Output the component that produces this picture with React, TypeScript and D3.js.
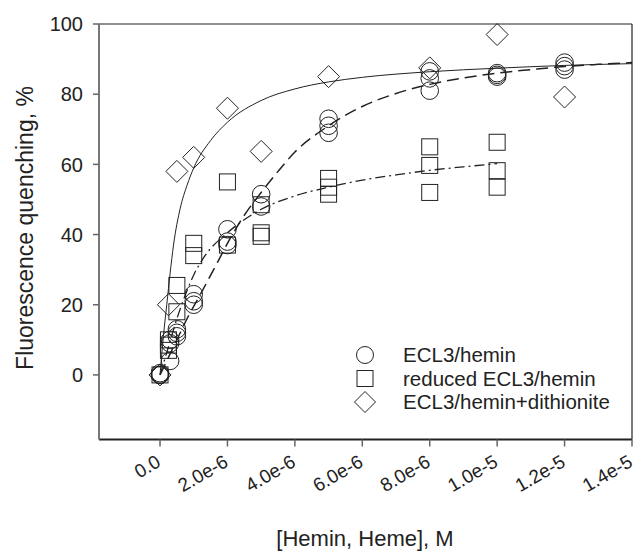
import React from "react";
import * as d3 from "d3";

// ---- data (concentrations in M, quenching in %) ----
const circleX = [0, 0, 0, 0.3e-6, 0.3e-6, 0.3e-6, 0.5e-6, 0.5e-6, 0.5e-6, 1e-6, 1e-6, 1e-6, 2e-6, 2e-6, 2e-6, 3e-6, 3e-6, 5e-6, 5e-6, 5e-6, 8e-6, 8e-6, 8e-6, 1e-5, 1e-5, 1e-5, 1.2e-5, 1.2e-5, 1.2e-5];
const circleY = [0, 0.5, 0, 4, 9, 10, 11, 12, 13, 20, 21, 23, 37, 38, 41.5, 48, 51.5, 69, 71, 73, 81, 84.5, 86.5, 85, 85.5, 86, 87, 88, 89];

const squareX = [0, 0.25e-6, 0.25e-6, 0.25e-6, 0.5e-6, 0.5e-6, 1e-6, 1e-6, 2e-6, 2e-6, 3e-6, 3e-6, 3e-6, 5e-6, 5e-6, 5e-6, 8e-6, 8e-6, 8e-6, 1e-5, 1e-5, 1e-5];
const squareY = [0, 7, 8.5, 10, 18, 25.5, 34, 37.5, 37, 55, 39.5, 40.5, 48.5, 51.5, 53.5, 56, 52, 59.7, 65, 53.5, 58.2, 66.3];

const diamondX = [0, 0.25e-6, 0.5e-6, 1e-6, 2e-6, 3e-6, 5e-6, 8e-6, 1e-5, 1.2e-5];
const diamondY = [0, 20, 58, 62, 76, 63.7, 85, 87.5, 97, 79.2];

// fitted curves
const solidFitX = [0, 0.1e-6, 0.2e-6, 0.3e-6, 0.4e-6, 0.6e-6, 0.8e-6, 1e-6, 1.5e-6, 2e-6, 3e-6, 4e-6, 5e-6, 6e-6, 8e-6, 1e-5, 1.2e-5, 1.4e-5];
const solidFitY = [0, 11, 20, 29, 37, 47.5, 54, 59, 66.8, 72, 78.2, 81.5, 83.5, 84.8, 86.4, 87.4, 88.2, 88.7];

const dashFitX = [0, 0.25e-6, 0.5e-6, 0.8e-6, 1.2e-6, 1.7e-6, 2e-6, 2.5e-6, 3e-6, 3.5e-6, 4e-6, 5e-6, 6e-6, 7e-6, 8e-6, 9e-6, 1e-5, 1.1e-5, 1.2e-5, 1.3e-5, 1.4e-5];
const dashFitY = [0, 5, 10, 16, 23, 32, 37.5, 45.5, 52, 58, 63.5, 71, 76.5, 80.2, 82.8, 84.6, 86, 87, 87.9, 88.5, 89];

const dashDotFitX = [0, 0.25e-6, 0.5e-6, 0.8e-6, 1e-6, 1.3e-6, 2e-6, 2.7e-6, 3e-6, 4e-6, 5e-6, 6e-6, 7e-6, 8e-6, 9e-6, 1e-5];
const dashDotFitY = [0, 8, 16, 24, 28.5, 33.5, 40.5, 45.5, 47.2, 51, 53.5, 55.5, 57, 58.3, 59.3, 60.2];

const xTicks = [0, 2e-6, 4e-6, 6e-6, 8e-6, 1e-5, 1.2e-5, 1.4e-5];
const xTickLabels = ["0.0", "2.0e-6", "4.0e-6", "6.0e-6", "8.0e-6", "1.0e-5", "1.2e-5", "1.4e-5"];
const yTicks = [0, 20, 40, 60, 80, 100];

const legendLabels = ["ECL3/hemin", "reduced ECL3/hemin", "ECL3/hemin+dithionite"];

const FONT = "'Liberation Sans', Arial, Helvetica, sans-serif";
const INK = "#222";

export default function App() {
  const W = 639, H = 551;
  const left = 99, right = 632, top = 24, bottom = 439.5;
  const x = d3.scaleLinear().domain([-1.81e-6, 1.4e-5]).range([left, right]);
  const y = d3.scaleLinear().domain([-18.4, 100]).range([bottom, top]);

  const mk = (xs: number[], ys: number[]) =>
    d3.line<number>().x((_, i) => x(xs[i])).y((_, i) => y(ys[i])).curve(d3.curveMonotoneX)(xs) || "";

  const diamond = (cx: number, cy: number, r: number) =>
    `M${cx},${cy - r}L${cx + r},${cy}L${cx},${cy + r}L${cx - r},${cy}Z`;

  const legX = 365, legTextX = 403;
  const legY = [355, 378.5, 402];

  return (
    <svg width={W} height={H} style={{ display: "block", position: "absolute", left: 0, top: 0, background: "#fff" }} fontFamily={FONT}>
      <rect x={0} y={0} width={W} height={H} fill="#fff" />
      {/* frame */}
      <line x1={left} x2={right} y1={top} y2={top} stroke={INK} strokeWidth={1.2} />
      <line x1={right} x2={right} y1={top} y2={bottom} stroke={INK} strokeWidth={1.2} />
      <line x1={left} x2={right} y1={bottom} y2={bottom} stroke={INK} strokeWidth={1.8} />
      <line x1={left} x2={left} y1={top} y2={bottom} stroke="#777" strokeWidth={2} />

      {/* y ticks */}
      {yTicks.map((t) => (
        <g key={"y" + t}>
          <line x1={left - 6} x2={left} y1={y(t)} y2={y(t)} stroke="#666" strokeWidth={1.5} />
          <text x={left - 16} y={y(t)} dy="0.36em" textAnchor="end" fontSize={20} fill={INK}>{t}</text>
        </g>
      ))}
      {/* x ticks */}
      {xTicks.map((t, i) => (
        <g key={"x" + t}>
          <line x1={x(t)} x2={x(t)} y1={bottom} y2={bottom + 7} stroke="#666" strokeWidth={1.5} />
          <text transform={`translate(${x(t) + 2},${bottom + 26}) rotate(-30)`} textAnchor="end" fontSize={19} fill={INK}>{xTickLabels[i]}</text>
        </g>
      ))}

      {/* axis titles */}
      <text x={365} y={546} textAnchor="middle" fontSize={22} fill={INK}>[Hemin, Heme], M</text>
      <text transform={`translate(33,228) rotate(-90)`} textAnchor="middle" fontSize={23} fill={INK}>Fluorescence quenching, %</text>

      {/* fits */}
      <path d={mk(solidFitX, solidFitY)} fill="none" stroke={INK} strokeWidth={1} />
      <path d={mk(dashFitX, dashFitY)} fill="none" stroke={INK} strokeWidth={1.5} strokeDasharray="12,6" />
      <path d={mk(dashDotFitX, dashDotFitY)} fill="none" stroke={INK} strokeWidth={1.3} strokeDasharray="10,4,2,4" />

      {/* points */}
      {circleX.map((cx, i) => (
        <circle key={"c" + i} cx={x(cx)} cy={y(circleY[i])} r={8.8} fill="none" stroke={INK} strokeWidth={1} />
      ))}
      {squareX.map((cx, i) => (
        <rect key={"s" + i} x={x(cx) - 8} y={y(squareY[i]) - 8} width={16} height={16} fill="none" stroke={INK} strokeWidth={1} />
      ))}
      {diamondX.map((cx, i) => (
        <path key={"d" + i} d={diamond(x(cx), y(diamondY[i]), 11)} fill="none" stroke={INK} strokeWidth={1} />
      ))}

      {/* legend */}
      <circle cx={legX} cy={legY[0]} r={8.5} fill="none" stroke={INK} strokeWidth={1} />
      <rect x={legX - 8} y={legY[1] - 8} width={16} height={16} fill="none" stroke={INK} strokeWidth={1} />
      <path d={diamond(legX, legY[2], 10.5)} fill="none" stroke={INK} strokeWidth={1} />
      {legendLabels.map((l, i) => (
        <text key={l} x={legTextX} y={legY[i]} dy="0.36em" fontSize={20.5} fill={INK}>{l}</text>
      ))}
    </svg>
  );
}
